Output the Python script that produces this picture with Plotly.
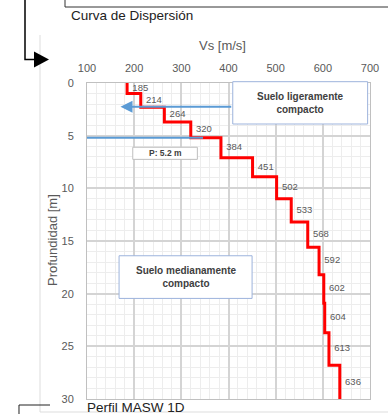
import plotly.graph_objects as go

# ---- data ----
vs = [185, 214, 264, 320, 384, 451, 502, 533, 568, 592, 602, 604, 613, 636]
tops = [0, 1.0, 2.3, 3.7, 5.2, 7.1, 8.9, 11.0, 13.2, 15.6, 18.2, 20.9, 23.7, 26.8]
bottom_depth = 30
x_ticks = [100, 200, 300, 400, 500, 600, 700]
y_ticks = [0, 5, 10, 15, 20, 25, 30]
p_depth = 5.2

W, H = 388, 414
def px(x):
    return x / W
def py(y):
    return 1 - y / H

FONT = "Liberation Sans"
GRAY = "#595959"
BLUE = "#5B9BD5"
BOX = "#9DB3DC"
NB = "\u00a0"

bottoms = tops[1:] + [bottom_depth]
xs, ys = [], []
for v, t, b in zip(vs, tops, bottoms):
    xs += [v, v]
    ys += [t, b]
mids = [(t + b) / 2 for t, b in zip(tops, bottoms)]

fig = go.Figure()
fig.add_trace(go.Scatter(x=xs, y=ys, mode="lines",
                         line=dict(color="#FF0000", width=3), hoverinfo="skip"))
fig.add_trace(go.Scatter(x=vs, y=mids, mode="text", text=[NB * 2 + str(v) for v in vs],
                         textposition="middle right",
                         textfont=dict(family=FONT, size=9.5, color=GRAY),
                         cliponaxis=False, hoverinfo="skip"))

x0d, x1d = px(87), px(370)
y0d, y1d = py(399), py(83)

fig.update_layout(
    width=W, height=H, margin=dict(l=0, r=0, t=0, b=0), autosize=False,
    paper_bgcolor="white", plot_bgcolor="white", showlegend=False,
    font=dict(family=FONT, color=GRAY),
    xaxis=dict(domain=[x0d, x1d], range=[100, 700], side="top",
               tickvals=x_ticks, ticktext=[str(t) for t in x_ticks],
               tickfont=dict(size=11, color=GRAY), ticks="", ticklabelstandoff=6,
               showgrid=True, gridcolor="#D4D4D4", gridwidth=1.5,
               minor=dict(dtick=20, showgrid=True, gridcolor="#EDEDED", gridwidth=1),
               showline=True, mirror=True, linecolor="#C0C0C0", linewidth=1,
               zeroline=False, fixedrange=True, automargin=False),
    yaxis=dict(domain=[y0d, y1d], range=[30, 0],
               tickvals=y_ticks, ticktext=[str(t) for t in y_ticks],
               tickfont=dict(size=11, color=GRAY), ticks="", ticklabelstandoff=10,
               showgrid=True, gridcolor="#D4D4D4", gridwidth=1.5,
               minor=dict(dtick=1, showgrid=True, gridcolor="#EDEDED", gridwidth=1),
               showline=True, mirror=True, linecolor="#C0C0C0", linewidth=1,
               zeroline=False, fixedrange=True, automargin=False),
)

shapes = []
ann = []

def note(x, y, text, size, color, xref="paper", yref="paper", xanchor="center", **kw):
    ann.append(dict(xref=xref, yref=yref, x=x, y=y, text=text, showarrow=False,
                    xanchor=xanchor, yanchor="middle",
                    font=dict(family=FONT, size=size, color=color), **kw))

# blue line at P depth
shapes.append(dict(type="line", xref="x", yref="y", x0=100, x1=346, y0=p_depth, y1=p_depth,
                   line=dict(color=BLUE, width=2)))
# box: Suelo ligeramente compacto
shapes.append(dict(type="rect", xref="x", yref="paper", x0=409, x1=695, y0=py(124), y1=py(81.7),
                   fillcolor="white", line=dict(color=BOX, width=1), layer="above"))
note(552, py(103), "<b>Suelo ligeramente<br>compacto</b>", 10, "#404040", xref="x")
# blue arrow
ann.append(dict(xref="x", yref="y", axref="x", ayref="y", x=171, y=2.25, ax=409, ay=2.25,
                text="", showarrow=True, arrowhead=2, arrowsize=1.2, arrowwidth=2,
                arrowcolor=BLUE))
# P: 5.2 m box
shapes.append(dict(type="rect", xref="x", yref="y", x0=197, x1=334, y0=6.1, y1=7.25,
                   fillcolor="white", line=dict(color="#BFBFBF", width=1), layer="above"))
note(265.5, 6.67, "<b>P: %s m</b>" % p_depth, 8.5, "#404040", xref="x", yref="y")
# box: Suelo medianamente compacto
shapes.append(dict(type="rect", xref="x", yref="y", x0=168, x1=450, y0=16.4, y1=20.45,
                   fillcolor="white", line=dict(color=BOX, width=1), layer="above"))
note(309, 18.4, "<b>Suelo medianamente<br>compacto</b>", 10, "#404040", xref="x", yref="y")

# axis titles
note(px(222), py(45), "Vs [m/s]", 13, GRAY)
note(px(52), py(240), "Profundidad [m]", 13, GRAY, textangle=-90)

# surrounding document elements
note(px(69), py(15), "Curva de Dispersión", 13.5, "#222222", xanchor="left")
note(px(85), py(407), "Perfil MASW 1D", 13.5, "#222222", xanchor="left")

# frame above
shapes.append(dict(type="line", xref="paper", yref="paper", x0=px(65), x1=px(65), y0=py(0), y1=py(7),
                   line=dict(color="#333333", width=1)))
shapes.append(dict(type="line", xref="paper", yref="paper", x0=px(65), x1=px(388), y0=py(7), y1=py(7),
                   line=dict(color="#333333", width=1)))
# light gray vertical rule
shapes.append(dict(type="line", xref="paper", yref="paper", x0=px(40), x1=px(40), y0=py(35), y1=py(412),
                   line=dict(color="#DDDDDD", width=1)))
shapes.append(dict(type="line", xref="paper", yref="paper", x0=px(40), x1=px(388), y0=py(412), y1=py(412),
                   line=dict(color="#DDDDDD", width=1)))
# black connector arrow
shapes.append(dict(type="path", xref="paper", yref="paper",
                   path="M %f %f L %f %f L %f %f" % (px(25), py(0), px(25), py(59.5), px(36), py(59.5)),
                   line=dict(color="black", width=1.5)))
shapes.append(dict(type="path", xref="paper", yref="paper",
                   path="M %f %f L %f %f L %f %f Z" % (px(34), py(51.5), px(49), py(59.5), px(34), py(67.5)),
                   fillcolor="black", line=dict(color="black", width=0)))
# bottom connector
shapes.append(dict(type="path", xref="paper", yref="paper",
                   path="M %f %f L %f %f L %f %f" % (px(50), py(405), px(19), py(405), px(19), py(414)),
                   line=dict(color="#222222", width=1)))

fig.update_layout(shapes=shapes, annotations=ann)
fig.write_html("out.html", config={"displayModeBar": False},
               post_script="document.body.style.margin='0';document.body.style.overflow='hidden';")
